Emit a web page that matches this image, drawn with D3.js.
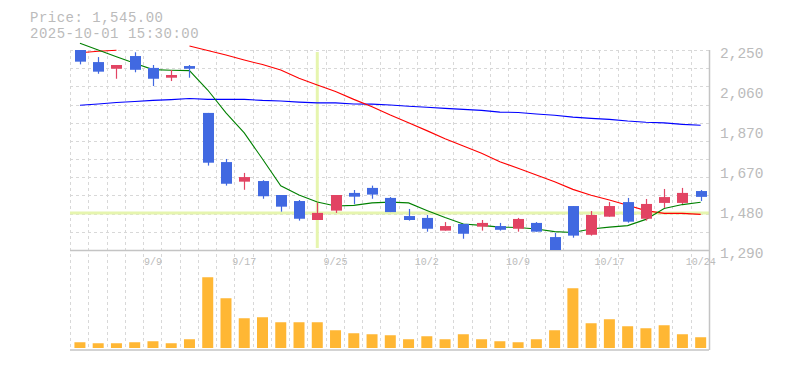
<!DOCTYPE html>
<html lang="en">
<head>
<meta charset="UTF-8">
<title>Candlestick</title>
<script src="https://cdn.jsdelivr.net/npm/d3@7"></script>
<style>
  body { margin: 0; background: #fff; }
  svg { display: block; }
  text { font-family: "Liberation Mono", monospace; fill: #bbb; }
</style>
</head>
<body>
<svg></svg>
<script>
const width = 785, height = 370
const plot = {left: 70, right: 709, top: 50, mid: 250, bottom: 350}

const dates = ['9/3','9/4','9/5','9/8','9/9','9/10','9/11','9/12','9/16','9/17','9/18','9/19','9/22','9/24','9/25',
  '9/26','9/29','9/30','10/1','10/2','10/3','10/6','10/7','10/8','10/9','10/10','10/14','10/15','10/16','10/17',
  '10/20','10/21','10/22','10/23','10/24']
const open  = [2250,2192,2160,2221,2164,2117,2173,1948,1712,1618,1621,1554,1525,1434,1479,1564,1588,1540,1453,1444,
  1383,1415,1402,1405,1392,1420,1352,1501,1363,1450,1520,1440,1516,1516,1573]
const high  = [2250,2216,2178,2239,2178,2154,2178,1948,1727,1660,1625,1554,1530,1517,1554,1578,1599,1544,1487,1458,
  1424,1415,1434,1420,1444,1424,1372,1501,1477,1520,1540,1535,1583,1588,1578]
const low   = [2181,2136,2112,2143,2077,2101,2117,1695,1599,1579,1536,1474,1431,1434,1468,1511,1536,1472,1431,1378,
  1383,1344,1383,1383,1378,1378,1290,1349,1359,1450,1421,1431,1492,1511,1525]
const close = [2194,2146,2178,2155,2112,2130,2160,1709,1608,1640,1548,1498,1440,1468,1554,1546,1556,1472,1434,1392,
  1405,1368,1420,1387,1439,1378,1290,1359,1458,1501,1426,1511,1544,1564,1545]
const volume = [115,95,95,115,135,95,175,1415,995,595,615,515,515,515,355,295,275,255,175,235,
  175,275,175,135,115,175,355,1195,495,575,435,395,455,275,215]
// moving averages as drawn (short / medium / long)
const ma5  = [2282,2250,2218,2186,2156,2153,2151,2058,1948,1852,1727,1598,1554,1520,1501,1504,1516,1520,1516,1480,
  1446,1415,1408,1400,1398,1391,1378,1374,1391,1400,1407,1437,1489,1508,1519]
const ma25 = [2237,2244,2249,null,null,null,2269,2248,2226,2202,2180,2154,2114,2082,2051,2013,1978,1938,1901,1863,
  1824,1789,1754,1714,1682,1650,1618,1581,1553,1530,1505,1479,1466,1466,1461]
const ma75 = [1985,1991,1998,2003,2008,2012,2017,2013,2013,2013,2008,2005,2000,1996,1996,1991,1990,1986,1980,1975,
  1970,1965,1960,1952,1950,1943,1937,1928,1922,1917,1909,1903,1900,1893,1889]

const priceTicks = [2250, 2058, 1866, 1674, 1482, 1290]
const priceLabels = ['2,250', '2,060', '1,870', '1,670', '1,480', '1,290']
const dateTicks = [4, 9, 14, 19, 24, 29, 34]
const crossIndex = 13

const svg = d3.select('svg')
    .attr('width', width)
    .attr('height', height)

const x = d3.scaleBand()
    .domain(d3.range(dates.length))
    .range([plot.left, plot.right])
const bw = x.bandwidth()
const cx = i => x(i) + bw / 2 + 0.8

const y = d3.scaleLinear()
    .domain([1290, 2250])
    .range([plot.mid, plot.top])

const yv = d3.scaleLinear()
    .domain([0, 1960])
    .range([plot.bottom - 2, plot.mid])

// grid
const grid = svg.append('g')
    .attr('stroke', '#d8d8d8')
    .attr('stroke-dasharray', '3,3')
    .attr('shape-rendering', 'crispEdges')
grid.selectAll('line.v')
  .data(d3.range(dates.length))
  .join('line')
    .attr('x1', i => Math.round(x(i)) + 0.5)
    .attr('x2', i => Math.round(x(i)) + 0.5)
    .attr('y1', plot.top)
    .attr('y2', plot.bottom)
const rows = 11
grid.selectAll('line.h')
  .data(d3.range(rows))
  .join('line')
    .attr('x1', plot.left)
    .attr('x2', plot.right)
    .attr('y1', k => Math.round(plot.top + k * (plot.mid - plot.top) / rows) + 0.5)
    .attr('y2', k => Math.round(plot.top + k * (plot.mid - plot.top) / rows) + 0.5)

// crosshair
svg.append('line')
    .attr('x1', cx(crossIndex)).attr('x2', cx(crossIndex))
    .attr('y1', plot.top + 2).attr('y2', plot.mid - 2)
    .attr('stroke', '#e6f5ae').attr('stroke-width', 3)
svg.append('line')
    .attr('x1', plot.left).attr('x2', plot.right)
    .attr('y1', y(close[crossIndex])).attr('y2', y(close[crossIndex]))
    .attr('stroke', '#e6f5ae').attr('stroke-width', 3)

// panel frame
svg.append('line')
    .attr('x1', plot.left).attr('x2', plot.right)
    .attr('y1', plot.mid + 0.5).attr('y2', plot.mid + 0.5)
    .attr('stroke', '#c4c4c4').attr('stroke-width', 1.5)
svg.append('line')
    .attr('x1', plot.left).attr('x2', plot.right)
    .attr('y1', plot.bottom).attr('y2', plot.bottom)
    .attr('stroke', '#c4c4c4').attr('stroke-width', 1.5)

// volume
svg.append('g')
  .selectAll('rect')
  .data(volume)
  .join('rect')
    .attr('x', (d, i) => cx(i) - 5.5)
    .attr('width', 11)
    .attr('y', d => yv(d))
    .attr('height', d => yv(0) - yv(d))
    .attr('fill', '#ffb734')

// moving averages
const maLine = d3.line()
    .defined(d => d != null)
    .x((d, i) => cx(i))
    .y(d => y(d))
const mas = [[ma75, '#0000ff'], [ma25, '#ff0000'], [ma5, '#008000']]
mas.forEach(([data, color]) => {
  svg.append('path')
      .attr('d', maLine(data))
      .attr('fill', 'none')
      .attr('stroke', color)
      .attr('stroke-width', 1.1)
})

// candles
const candle = svg.append('g')
  .selectAll('g')
  .data(dates.map((d, i) => i))
  .join('g')
    .attr('fill', i => close[i] >= open[i] ? '#e24463' : '#4169e1')
    .attr('stroke', i => close[i] >= open[i] ? '#e24463' : '#4169e1')
candle.append('line')
    .attr('x1', i => Math.round(cx(i)) + 0.5)
    .attr('x2', i => Math.round(cx(i)) + 0.5)
    .attr('y1', i => y(high[i]))
    .attr('y2', i => y(low[i]))
    .attr('stroke-width', 1.2)
candle.append('rect')
    .attr('stroke', 'none')
    .attr('x', i => Math.round(cx(i)) - 5)
    .attr('width', 11)
    .attr('y', i => y(Math.max(open[i], close[i])))
    .attr('height', i => Math.max(1.5, Math.abs(y(open[i]) - y(close[i]))))

// right axis line
svg.append('line')
    .attr('x1', plot.right + 0.5).attr('x2', plot.right + 0.5)
    .attr('y1', plot.top).attr('y2', plot.bottom)
    .attr('stroke', '#c4c4c4').attr('stroke-width', 1.5)

// price axis
svg.append('g')
    .attr('transform', `translate(${plot.right},0)`)
    .call(d3.axisRight(y).tickValues(priceTicks)
        .tickFormat((d, i) => priceLabels[i]).tickSize(0).tickPadding(11))
    .call(g => g.select('.domain').remove())
    .call(g => g.selectAll('text')
        .attr('font-family', '"Liberation Mono", monospace')
        .attr('font-size', 14.5)
        .attr('dy', '0.5em'))

// date axis
svg.append('g')
    .attr('transform', `translate(0,${plot.mid})`)
    .call(d3.axisBottom(x).tickValues(dateTicks)
        .tickFormat(i => dates[i]).tickSize(0).tickPadding(8))
    .call(g => g.select('.domain').remove())
    .call(g => g.selectAll('.tick').attr('transform', i => `translate(${cx(i)},0)`))
    .call(g => g.selectAll('text')
        .attr('font-family', '"Liberation Mono", monospace')
        .attr('font-size', 10))

// header
svg.append('text')
    .attr('x', 30).attr('y', 22)
    .attr('font-size', 14)
    .attr('letter-spacing', 0.5)
    .text('Price: ' + d3.format(',.2f')(close[close.length - 1]))
svg.append('text')
    .attr('x', 30).attr('y', 37.5)
    .attr('font-size', 14)
    .attr('letter-spacing', 0.5)
    .text('2025-10-01 15:30:00')
</script>
</body>
</html>
